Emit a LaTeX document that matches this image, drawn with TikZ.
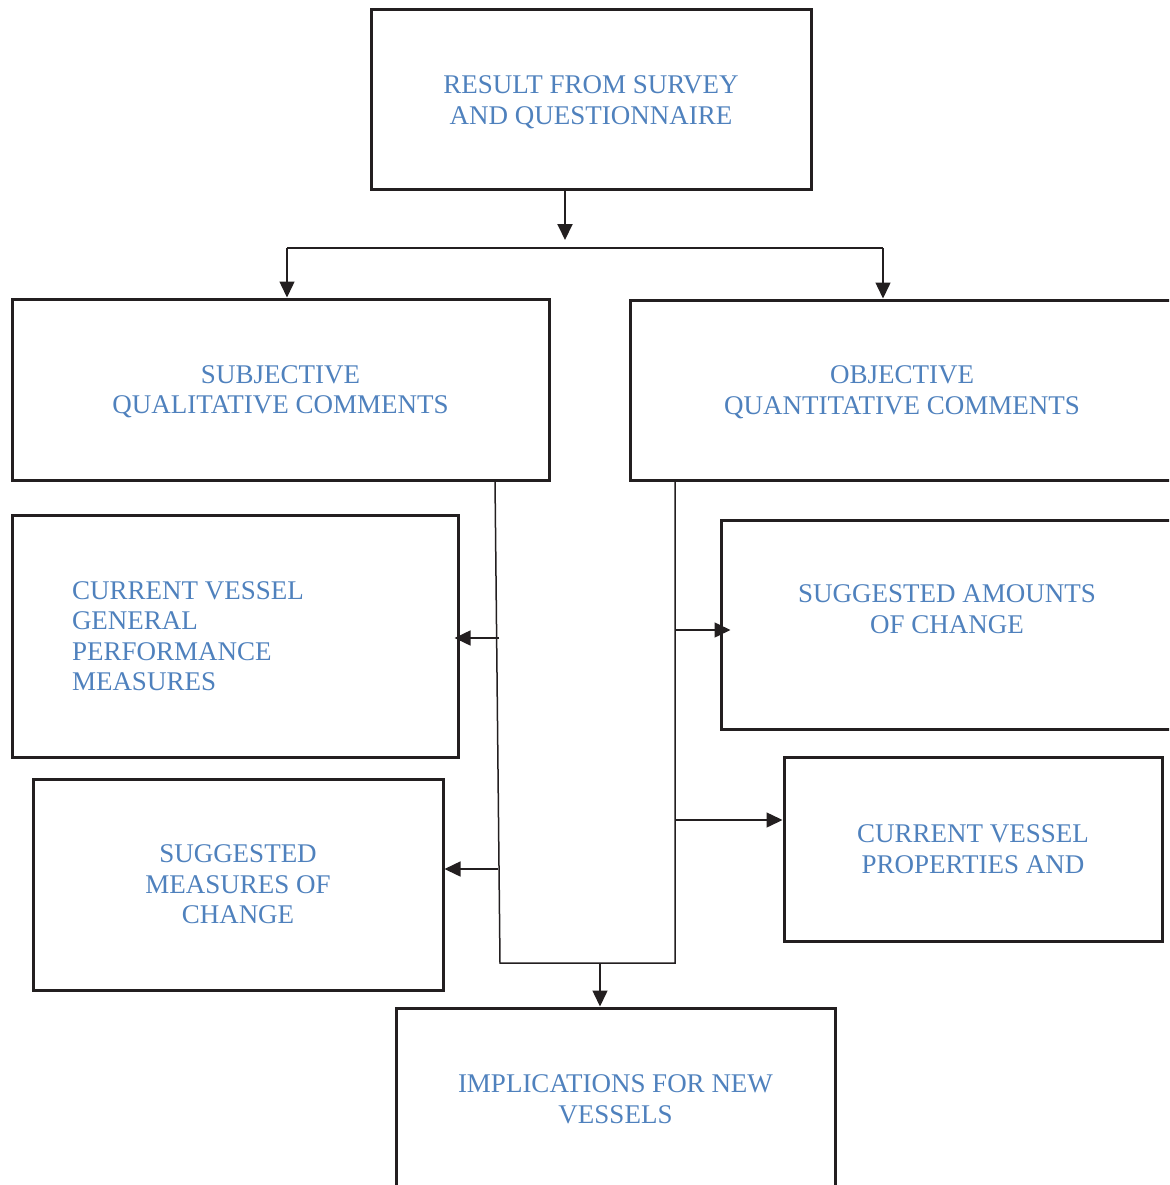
\documentclass[tikz,border=0pt]{standalone}
\usepackage{fontspec}
\setmainfont{Liberation Serif}
\usetikzlibrary{arrows.meta}
\definecolor{inkline}{HTML}{231F20}
\definecolor{labelblue}{HTML}{4F81BD}
\begin{document}
\begin{tikzpicture}[x=1pt,y=-1pt,
  frame/.style={draw=inkline, line width=3pt, inner sep=0pt,
    text=labelblue, font=\fontsize{27}{30.5}\selectfont},
  box/.style={frame, align=center, text depth=0pt},
  leftbox/.style={frame, align=flush left},
  link/.style={draw=inkline, line width=1.5pt},
  arr/.style={link, -{Triangle[length=16pt,width=15pt]}},
  mainarr/.style={arr, line width=2pt}]
\useasboundingbox (0,0) rectangle (1169,1185);
\clip (0,0) rectangle (1169,1185);

% boxes
\node[box, minimum width=440pt, minimum height=180pt] (top) at (591,100)
  {RESULT FROM SURVEY\\AND QUESTIONNAIRE};
\node[box, minimum width=537pt, minimum height=181pt] (sub) at (280.5,389.5)
  {SUBJECTIVE\\QUALITATIVE COMMENTS};
\node[box, minimum width=544pt, minimum height=180pt] (obj) at (902,390)
  {OBJECTIVE\\QUANTITATIVE COMMENTS};
\node[leftbox, minimum height=242pt, inner xsep=60pt, text width=326pt] (cur) at (235,636)
  {CURRENT VESSEL\\GENERAL\\PERFORMANCE\\MEASURES};
\node[box, minimum width=452pt, minimum height=209pt] (amt) at (947,624.5)
  {SUGGESTED AMOUNTS\\OF CHANGE\\[0pt]};
\node[box, minimum width=410pt, minimum height=211pt] (meas) at (238,884.5)
  {SUGGESTED\\MEASURES OF\\CHANGE};
\node[box, minimum width=378pt, minimum height=184pt] (prop) at (973,849)
  {CURRENT VESSEL\\PROPERTIES AND};
\node[box, minimum width=439pt, minimum height=182pt] (imp) at (615.5,1099)
  {IMPLICATIONS FOR NEW\\VESSELS};

% split below the survey box
\coordinate (split) at (565,240);
\draw[mainarr] (top.south -| split) -- (split);
\coordinate (bl) at (287,248);
\coordinate (br) at (883,248);
\draw[link] (bl) -- (br);
\draw[arr] (bl) -- (bl |- sub.north);
\draw[arr] (br) -- (br |- obj.north);

% trunks joining at the bottom
\coordinate (lt) at (495,480);
\coordinate (lb) at (500,963);
\coordinate (rb) at (675,963);
\draw[link] (lt) -- (lb) -- (rb) -- (obj.south -| rb);
\coordinate (down) at (600,963);
\draw[arr] (down) -- (down |- imp.north);

% branches to the side boxes
\coordinate (la1) at (499,638);
\draw[arr, shorten >=-5pt] (la1) -- (la1 -| cur.east);
\coordinate (la2) at (498,869);
\draw[arr] (la2) -- (la2 -| meas.east);
\coordinate (ra1) at (675,630);
\draw[arr, shorten >=-11pt] (ra1) -- (ra1 -| amt.west);
\coordinate (ra2) at (675,820);
\draw[arr] (ra2) -- (ra2 -| prop.west);
\end{tikzpicture}
\end{document}
